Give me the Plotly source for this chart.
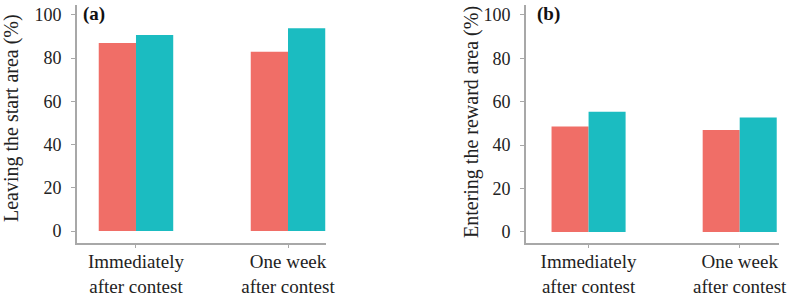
import plotly.graph_objects as go

categories = ["Immediately<br>after contest", "One week<br>after contest"]
leaving_red = [87, 83]
leaving_teal = [90.7, 93.8]
entering_red = [48.6, 46.9]
entering_teal = [55.3, 52.7]
y_ticks = [0, 20, 40, 60, 80, 100]
y_titles = ["Leaving the start area (%)", "Entering the reward area (%)"]
panel_tags = ["(a)", "(b)"]

RED = "#F06E67"
TEAL = "#1BBCC1"
AX = "#A8A8A8"
FONT = "Liberation Serif, Times New Roman, Times, serif"
TXT = "#222"
W, H = 789, 296

fig = go.Figure()
for xa, ya, red, teal in [("x", "y", leaving_red, leaving_teal), ("x2", "y2", entering_red, entering_teal)]:
    fig.add_trace(go.Bar(x=categories, y=red, marker=dict(color=RED, line=dict(width=0)),
                         xaxis=xa, yaxis=ya, showlegend=False, offsetgroup="r", hoverinfo="skip"))
    fig.add_trace(go.Bar(x=categories, y=teal, marker=dict(color=TEAL, line=dict(width=0)),
                         xaxis=xa, yaxis=ya, showlegend=False, offsetgroup="t", hoverinfo="skip"))

def xaxis(dom, rng):
    return dict(domain=dom, type="category", range=rng, showline=True, linecolor=AX, linewidth=2,
                ticks="outside", ticklen=3, tickcolor=AX, tickwidth=1, showgrid=False, automargin=False,
                ticklabelstandoff=-3,
                tickfont=dict(family=FONT, size=19, color=TXT), zeroline=False)

def yaxis(anchor, rng):
    return dict(domain=[(H - 243) / H, (H - 5) / H], anchor=anchor, range=rng, tickvals=y_ticks,
                showline=True, linecolor=AX, linewidth=2, ticks="outside", ticklen=4, tickcolor=AX,
                showgrid=False, zeroline=False, automargin=False, ticklabelstandoff=6,
                tickfont=dict(family=FONT, size=18, color=TXT))

annotations = []
for tag, tx, title, ttx, tty in [(panel_tags[0], 81, y_titles[0], 11, 118),
                                 (panel_tags[1], 535, y_titles[1], 471, 122)]:
    annotations.append(dict(text="<b>" + tag + "</b>", x=tx / W, y=(H - 14) / H, xref="paper", yref="paper",
                            xanchor="left", yanchor="middle", showarrow=False,
                            font=dict(family=FONT, size=19, color="#111")))
    annotations.append(dict(text=title, x=ttx / W, y=(H - tty) / H, xref="paper", yref="paper",
                            xanchor="center", yanchor="middle", textangle=-90, showarrow=False,
                            font=dict(family=FONT, size=20, color=TXT)))

fig.update_layout(
    width=W, height=H, margin=dict(l=0, r=0, t=0, b=0),
    plot_bgcolor="white", paper_bgcolor="white",
    barmode="group", bargap=0.51, bargroupgap=0,
    xaxis=dict(**xaxis([77 / W, 326 / W], [-0.388, 1.25]), anchor="y"),
    yaxis=yaxis("x", [-5.5, 104.6]),
    xaxis2=dict(**xaxis([526 / W, 779 / W], [-0.414, 1.26]), anchor="y2"),
    yaxis2=yaxis("x2", [-5.1, 104.5]),
    annotations=annotations,
)

fig.write_html("out.html", config={"displayModeBar": False},
               post_script="document.body.style.margin='0';")
